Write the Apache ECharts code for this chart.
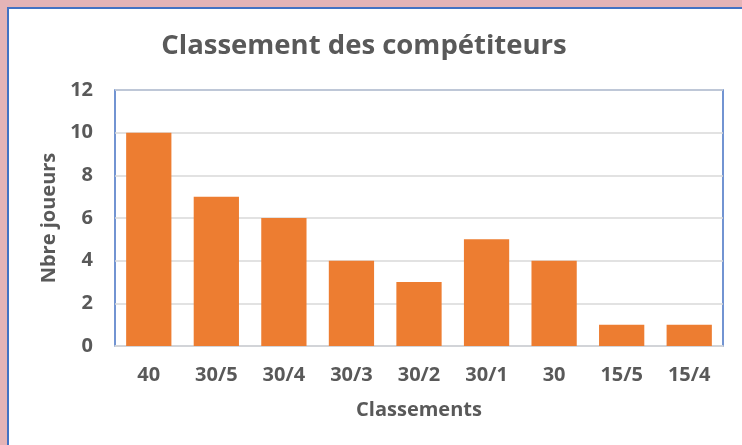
<!DOCTYPE html>
<html>
<head>
<meta charset="utf-8">
<script src="https://cdn.jsdelivr.net/npm/echarts@6/dist/echarts.min.js"></script>
<style>
    html, body { margin: 0; padding: 0; width: 742px; height: 445px; overflow: hidden; background: #e5b4b7; }
    #chart {
        position: absolute;
        left: 7px;
        top: 7px;
        width: 733px;
        height: 436px;
        border-left: 2px solid #4472c4;
        border-top: 2px solid #4472c4;
        background: #ffffff;
    }
</style>
</head>
<body>
<div id="chart"></div>
<script>
// classements (categories) et nombre de joueurs
const categories = ['40', '30/5', '30/4', '30/3', '30/2', '30/1', '30', '15/5', '15/4'];
const joueurs = [10, 7, 6, 4, 3, 5, 4, 1, 1];

const textColor = '#595959';
const fontFamily = '"Open Sans", sans-serif';

const chart = echarts.init(document.getElementById('chart'));

chart.setOption({
    animation: false,
    title: {
        text: 'Classement des compétiteurs',
        left: 350,
        top: 18,
        textAlign: 'center',
        textStyle: {
            color: textColor,
            fontFamily,
            fontWeight: 'bold',
            fontSize: 27.5,
        },
    },
    grid: {
        left: 106,
        right: 19,
        top: 81,
        bottom: 99,
        show: true,
        borderColor: '#4472c4',
        borderWidth: 1.5,
        containLabel: false,
    },
    xAxis: {
        type: 'category',
        data: categories,
        name: 'Classements',
        nameLocation: 'middle',
        nameGap: 54,
        nameTextStyle: {
            color: textColor,
            fontFamily,
            fontWeight: 'bold',
            fontSize: 20,
        },
        axisLine: { lineStyle: { color: '#d9d9d9', width: 1.5 } },
        axisTick: { show: false },
        axisLabel: {
            color: textColor,
            fontFamily,
            fontWeight: 'bold',
            fontSize: 20,
            margin: 19,
        },
    },
    yAxis: {
        type: 'value',
        min: 0,
        max: 12,
        interval: 2,
        name: 'Nbre joueurs',
        nameLocation: 'middle',
        nameGap: 54,
        nameTextStyle: {
            color: textColor,
            fontFamily,
            fontWeight: 'bold',
            fontSize: 20,
        },
        axisLine: { show: false },
        axisTick: { show: false },
        axisLabel: {
            color: textColor,
            fontFamily,
            fontWeight: 'bold',
            fontSize: 20,
            margin: 22,
        },
        splitLine: { lineStyle: { color: '#d9d9d9', width: 1.5 } },
    },
    series: [
        {
            type: 'bar',
            data: joueurs,
            barCategoryGap: '33%',
            itemStyle: { color: '#ed7d31' },
        },
    ],
});
</script>
</body>
</html>
